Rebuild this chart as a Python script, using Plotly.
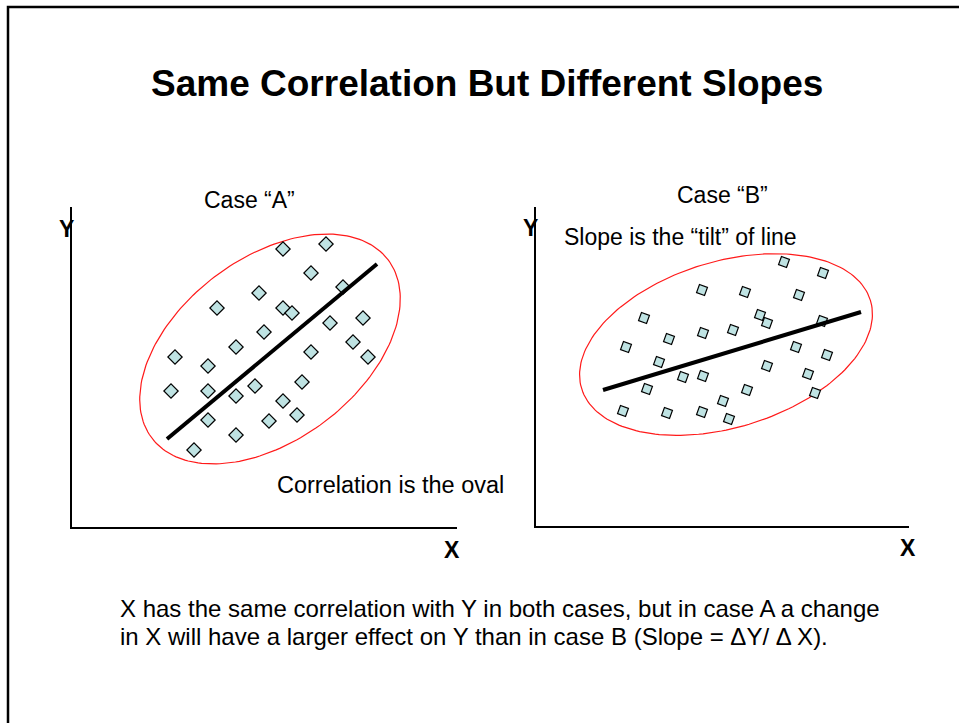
import numpy as np
import plotly.graph_objects as go

# Case A scatter (axis units, origin at lower-left corner of the axes)
a_x = [211, 254, 239, 271, 187, 145, 211, 220, 258, 291, 192, 164, 281, 103,
       239, 296, 136, 99, 136, 164, 183, 230, 211, 136, 197, 225, 164, 122]
a_y = [278, 283, 254, 240, 234, 219, 219, 214, 204, 209, 195, 180, 185, 170,
       175, 170, 161, 136, 136, 131, 141, 145, 126, 107, 106, 112, 92, 77]
a_line_x = [95, 305]
a_line_y = [88, 263]
a_oval = dict(cx=198, cy=178, a=148, b=91, angle=37)

# Case B scatter
b_x = [248, 287, 166, 209, 263, 108, 224, 231, 286, 133, 167, 197, 90, 260,
       123, 291, 231, 147, 167, 272, 111, 211, 279, 187, 87, 131, 166, 193]
b_y = [264, 253, 236, 234, 231, 208, 211, 203, 205, 187, 193, 196, 179, 179,
       164, 171, 160, 149, 150, 152, 137, 136, 133, 125, 115, 113, 114, 107]
b_line_x = [67, 325]
b_line_y = [136, 214]
b_oval = dict(cx=190, cy=181.5, a=151, b=83, angle=17)

W, H = 959, 723
FONT = "Arial, Liberation Sans, sans-serif"
FILL = "#bfe3e3"


def oval(o):
    t = np.linspace(0, 2 * np.pi, 200)
    th = np.radians(o["angle"])
    ex = o["a"] * np.cos(t)
    ey = o["b"] * np.sin(t)
    return (o["cx"] + ex * np.cos(th) - ey * np.sin(th),
            o["cy"] + ex * np.sin(th) + ey * np.cos(th))


fig = go.Figure()

for xa, ya, o, px, py, lx, ly, sym, size, ang in [
    ("x", "y", a_oval, a_x, a_y, a_line_x, a_line_y, "diamond", 11, 0),
    ("x2", "y2", b_oval, b_x, b_y, b_line_x, b_line_y, "square", 8.5, 20),
]:
    ox, oy = oval(o)
    fig.add_trace(go.Scatter(x=ox, y=oy, mode="lines", xaxis=xa, yaxis=ya,
                             line=dict(color="#ff1a1a", width=1.2),
                             hoverinfo="skip"))
    fig.add_trace(go.Scatter(x=px, y=py, mode="markers", xaxis=xa, yaxis=ya,
                             marker=dict(symbol=sym, size=size, angle=ang, color=FILL,
                                         line=dict(color="black", width=1.2))))
    fig.add_trace(go.Scatter(x=lx, y=ly, mode="lines", xaxis=xa, yaxis=ya,
                             line=dict(color="black", width=4), hoverinfo="skip"))

ax = dict(showline=True, linecolor="black", linewidth=1.5, showgrid=False,
          zeroline=False, showticklabels=False, ticks="", fixedrange=True)

fig.update_layout(
    width=W, height=H, margin=dict(l=0, r=0, t=0, b=0),
    paper_bgcolor="white", plot_bgcolor="white", showlegend=False,
    font=dict(family=FONT, color="black"),
    xaxis=dict(ax, domain=[72 / W, 457 / W], range=[0, 385]),
    yaxis=dict(ax, domain=[(H - 527) / H, (H - 207) / H], range=[0, 320]),
    xaxis2=dict(ax, domain=[536 / W, 909 / W], range=[0, 373], anchor="y2"),
    yaxis2=dict(ax, domain=[(H - 526) / H, (H - 207) / H], range=[0, 319], anchor="x2"),
)

# slide frame
fig.add_shape(type="rect", xref="paper", yref="paper",
              x0=8 / W, x1=1.05, y0=-0.05, y1=1 - 7 / H,
              line=dict(color="black", width=2.5))


def txt(s, x, y, size, bold=False, xanchor="center"):
    fig.add_annotation(text="<b>%s</b>" % s if bold else s, xref="paper", yref="paper",
                       x=x / W, y=1 - y / H, xanchor=xanchor, yanchor="middle",
                       showarrow=False, font=dict(size=size, family=FONT))


txt("Same Correlation But Different Slopes", 487, 83, 37, bold=True)
txt("Case “A”", 249, 200, 23)
txt("Case “B”", 722, 195, 23)
txt("Slope is the “tilt” of line", 562, 237, 23, xanchor="left")
txt("Correlation is the oval", 275, 485, 23.5, xanchor="left")
txt("Y", 66, 229, 23, bold=True)
txt("Y", 530, 228, 23, bold=True)
txt("X", 452, 550, 23, bold=True)
txt("X", 908, 548, 23, bold=True)
txt("X has the same correlation with Y in both cases, but in case A a change",
    118, 608, 24, xanchor="left")
txt("in X will have a larger effect on Y than in case B (Slope = ΔY/ Δ X).",
    118, 636, 24, xanchor="left")

fig.write_html("out.html", config={"displayModeBar": False},
               post_script="document.body.style.margin='0';")
